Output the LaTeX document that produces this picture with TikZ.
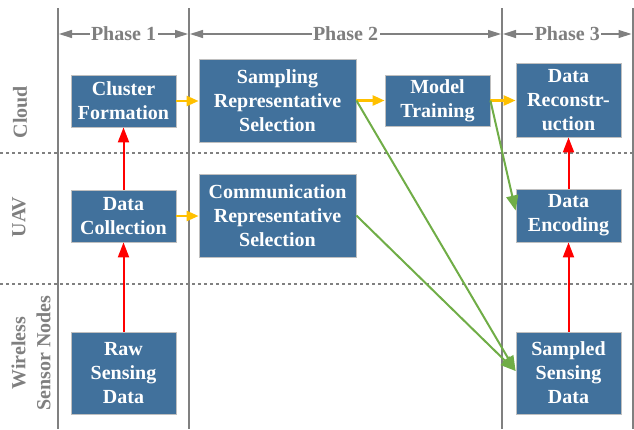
\documentclass[tikz,border=0pt]{standalone}
\usepackage{fontspec}
\setmainfont{Liberation Serif}
\usetikzlibrary{arrows.meta,calc}
\definecolor{boxblue}{HTML}{41719C}
\definecolor{boxedge}{HTML}{BFBFBF}
\definecolor{linegray}{HTML}{808080}
\definecolor{labgray}{HTML}{7F7F7F}
\definecolor{arrred}{HTML}{FF0000}
\definecolor{arryel}{HTML}{FFC000}
\definecolor{arrgreen}{HTML}{70AD47}
\begin{document}
\begin{tikzpicture}[x=1pt,y=-1pt,
  box/.style={draw=boxedge, line width=0.8pt, fill=boxblue, text=white,
    font=\fontsize{20}{24}\selectfont\bfseries, align=center, inner sep=0pt},
  sidelab/.style={text=labgray, font=\fontsize{20}{25}\selectfont\bfseries, align=center, rotate=90},
  phaselab/.style={text=labgray, font=\fontsize{20}{24}\selectfont\bfseries, fill=white, inner sep=1.5pt},
  phasearrow/.style={draw=linegray, line width=1.3pt, {Triangle[length=13pt,width=8pt]}-{Triangle[length=13pt,width=8pt]}},
  vline/.style={draw=linegray, line width=2pt},
  sepline/.style={draw=linegray, line width=1.3pt, dash pattern=on 3pt off 3pt},
  redarrow/.style={draw=arrred, line width=2pt, -{Triangle[length=15pt,width=11pt]}},
  yelarrow/.style={draw=arryel, line width=2.5pt, -{Triangle[length=12pt,width=10pt]}},
  greenarrow/.style={draw=arrgreen, line width=2pt, -{Triangle[length=15pt,width=12pt]}}
]
\useasboundingbox (0,0) rectangle (634,429);

% separators
\draw[sepline] (0,153) -- (634,153);
\draw[sepline] (0,284) -- (634,284);

% vertical phase lines
\coordinate (v1t) at (58,8);   \coordinate (v1b) at (58,429);
\coordinate (v2t) at (189,8);  \coordinate (v2b) at (189,429);
\coordinate (v3t) at (502,8);  \coordinate (v3b) at (502,429);
\coordinate (v4t) at (632.5,8);\coordinate (v4b) at (632.5,429);
\draw[vline] (v1t) -- (v1b);
\draw[vline] (v2t) -- (v2b);
\draw[vline] (v3t) -- (v3b);
\draw[vline] (v4t) -- (v4b);

% phase arrows
\coordinate (p1a) at (59,34);  \coordinate (p1b) at (188,34);
\coordinate (p2a) at (190,34); \coordinate (p2b) at (501,34);
\coordinate (p3a) at (503,34); \coordinate (p3b) at (631.5,34);
\draw[phasearrow] (p1a) -- (p1b) node[midway, phaselab] (ph1) {Phase 1};
\draw[phasearrow] (p2a) -- (p2b) node[midway, phaselab] (ph2) {Phase 2};
\draw[phasearrow] (p3a) -- (p3b) node[midway, phaselab] (ph3) {Phase 3};

% side labels
\node[sidelab] (lcloud) at (20,112) {Cloud};
\node[sidelab] (luav) at (19,217) {UAV};
\node[sidelab] (lwsn) at (31,353) {Wireless\\Sensor Nodes};

% boxes
\node[box, minimum width=105pt, minimum height=52pt] (cf)  at (123.5,101)   {Cluster\\Formation};
\node[box, minimum width=157pt, minimum height=83pt] (srs) at (277.5,100.5) {Sampling\\Representative\\Selection};
\node[box, minimum width=105pt, minimum height=51pt] (mt)  at (437.5,100.5) {Model\\Training};
\node[box, minimum width=105pt, minimum height=74pt] (dr)  at (568.5,100)   {Data\\Reconstr-\\uction};
\node[box, minimum width=105pt, minimum height=52pt] (dc)  at (123.5,216)   {Data\\Collection};
\node[box, minimum width=157pt, minimum height=83pt] (crs) at (277.5,215.5) {Communication\\Representative\\Selection};
\node[box, minimum width=105pt, minimum height=53pt] (de)  at (568.5,215.5) {Data\\Encoding};
\node[box, minimum width=105pt, minimum height=82pt] (rsd) at (123.5,373)   {Raw\\Sensing\\Data};
\node[box, minimum width=105pt, minimum height=82pt] (ssd) at (568.5,373)   {Sampled\\Sensing\\Data};

% red arrows
\draw[redarrow] (rsd.north) -- (dc.south);
\draw[redarrow] (dc.north) -- (cf.south);
\draw[redarrow] (ssd.north) -- (de.south);
\draw[redarrow] (de.north) -- (dr.south);

% yellow arrows
\draw[yelarrow] (cf.east) -- (srs.west |- cf.east);
\draw[yelarrow] (dc.east) -- (crs.west |- dc.east);
\draw[yelarrow] (srs.east) -- (mt.west);
\draw[yelarrow] (mt.east) -- (dr.west |- mt.east);

% green arrows
\draw[greenarrow] (srs.east) -- ($(ssd.west)+(0,-2)$);
\draw[greenarrow] (crs.east) -- ($(ssd.west)+(0,-2)$);
\draw[greenarrow] (mt.east) -- ($(de.west)+(0,-5)$);
\end{tikzpicture}
\end{document}
